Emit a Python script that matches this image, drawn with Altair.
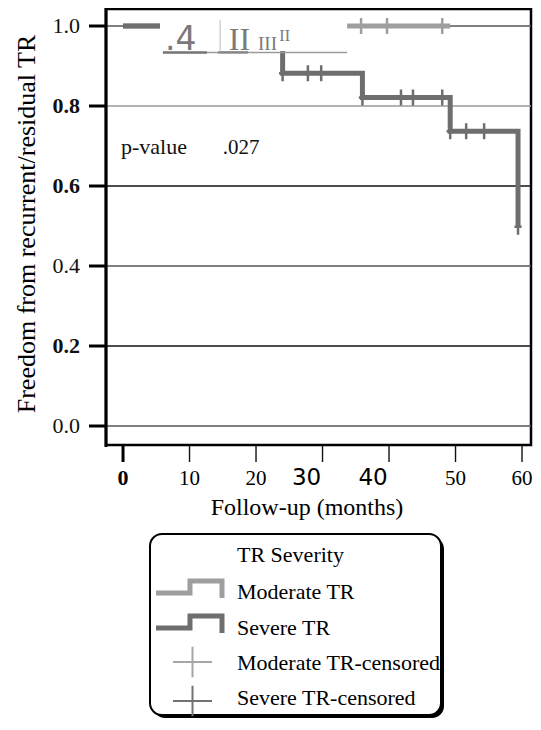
import altair as alt
import pandas as pd

# ---------------- data ----------------
series_names = ["Moderate TR", "Severe TR"]
series_colors = ["#9e9e9e", "#6e6e6e"]

moderate_time = [0.0, 49.2]
moderate_surv = [1.0, 1.0]
severe_time = [0.0, 24.0, 36.0, 49.2, 59.4]
severe_surv = [1.0, 0.882, 0.821, 0.737, 0.498]

moderate_cens_time = [35.8, 39.7, 48.0]
moderate_cens_surv = [1.0, 1.0, 1.0]
severe_cens_time = [24.0, 27.8, 29.8, 36.0, 41.8, 43.6, 48.0, 49.2, 51.6, 54.3, 59.4]
severe_cens_surv = [0.882, 0.882, 0.882, 0.821, 0.821, 0.821, 0.821, 0.737, 0.737, 0.737, 0.498]

x_ticks = [0, 10, 20, 30, 40, 50, 60]
x_tick_labels = ["0", "10", "20", "30", "40", "50", "60"]
y_ticks = [0.0, 0.2, 0.4, 0.6, 0.8, 1.0]
y_tick_labels = ["0.0", "0.2", "0.4", "0.6", "0.8", "1.0"]

legend_title = "TR Severity"
legend_labels = ["Moderate TR", "Severe TR", "Moderate TR-censored", "Severe TR-censored"]
legend_colors = ["#9e9e9e", "#6e6e6e", "#a6a6a6", "#727272"]

p_label = "p-value"
p_value = ".027"
garble_texts = [".4", "II", "III", "II"]

x_title = "Follow-up (months)"
y_title = "Freedom from recurrent/residual TR"

SERIF = "Liberation Serif"
SANS = "DejaVu Sans"
W, H = 425, 436

# ---------------- tables ----------------
curves = pd.concat([
    pd.DataFrame({"series": series_names[0], "t": moderate_time, "s": moderate_surv}),
    pd.DataFrame({"series": series_names[1], "t": severe_time, "s": severe_surv}),
], ignore_index=True)

censors = pd.concat([
    pd.DataFrame({"series": series_names[0], "t": moderate_cens_time, "s": moderate_cens_surv}),
    pd.DataFrame({"series": series_names[1], "t": severe_cens_time, "s": severe_cens_surv}),
], ignore_index=True)

xt_df = pd.DataFrame({"v": x_ticks, "lab": x_tick_labels})
yt_df = pd.DataFrame({"v": y_ticks, "lab": y_tick_labels})
one = pd.DataFrame({"k": [0]})

# ---------------- scales ----------------
xs = alt.Scale(domain=[-2.56, 61.35], nice=False, zero=False)
ys = alt.Scale(domain=[-0.0475, 1.0425], nice=False, zero=False)
cs = alt.Scale(domain=series_names, range=series_colors)


def XF(f):
    return alt.X(f, scale=xs, axis=None)


def YF(f):
    return alt.Y(f, scale=ys, axis=None)


def xd(v):
    return alt.XDatum(v, scale=xs, axis=None)


def yd(v):
    return alt.YDatum(v, scale=ys, axis=None)


# ---------------- grid & axes (drawn as marks) ----------------
grid = alt.Chart(yt_df).transform_calculate(
    gc="datum.v == 0.8 ? '#9a9a9a' : ((datum.v == 0.6 || datum.v == 0.2) ? '#111111' : '#555555')"
).mark_rule(strokeWidth=1.3).encode(
    y=YF("v:Q"),
    color=alt.Color("gc:N", scale=None, legend=None),
)

y_ticks_l = alt.Chart(yt_df).mark_rule(color="black", strokeWidth=3).encode(
    x=alt.value(-17), x2=alt.value(0), y=YF("v:Q"))
y_dom = alt.Chart(one).mark_rule(color="black", strokeWidth=3).encode(
    x=alt.value(0), y=alt.value(-1), y2=alt.value(H + 2))
y_lab_n = alt.Chart(yt_df).transform_filter("datum.v == 0 || datum.v == 0.4 || datum.v == 1").mark_text(
    font=SERIF, fontSize=22, color="#111111", align="right", baseline="middle"
).encode(x=alt.value(-26), y=YF("v:Q"), text="lab:N")
y_lab_b = alt.Chart(yt_df).transform_filter("datum.v == 0.2 || datum.v == 0.6 || datum.v == 0.8").mark_text(
    font=SERIF, fontSize=22, fontWeight="bold", color="#111111", align="right", baseline="middle"
).encode(x=alt.value(-26), y=YF("v:Q"), text="lab:N")
y_tit = alt.Chart(one).mark_text(
    text=y_title, font=SERIF, fontSize=26, color="black", angle=270, align="center", baseline="middle"
).encode(x=alt.value(-79), y=alt.value(215))

x_ticks_n = alt.Chart(xt_df).transform_filter("datum.v != 0").mark_rule(color="#111111", strokeWidth=1.4).encode(
    x=XF("v:Q"), y=alt.value(H + 1), y2=alt.value(H + 17))
x_ticks_0 = alt.Chart(xt_df).transform_filter("datum.v == 0").mark_rule(color="black", strokeWidth=3).encode(
    x=XF("v:Q"), y=alt.value(H + 1), y2=alt.value(H + 17))

LBL_Y = 476
x_lab = [
    alt.Chart(xt_df).transform_filter("datum.v == 0").mark_text(
        font=SERIF, fontSize=22, fontWeight="bold", color="black", baseline="alphabetic"
    ).encode(x=XF("v:Q"), y=alt.value(LBL_Y), text="lab:N"),
    alt.Chart(xt_df).transform_filter("datum.v == 10 || datum.v == 20 || datum.v == 50 || datum.v == 60").mark_text(
        font=SERIF, fontSize=21, color="black", baseline="alphabetic"
    ).encode(x=XF("v:Q"), y=alt.value(LBL_Y), text="lab:N"),
    alt.Chart(xt_df).transform_filter("datum.v == 30 || datum.v == 40").mark_text(
        font=SANS, fontSize=23, color="black", baseline="alphabetic", dx=-16
    ).encode(x=XF("v:Q"), y=alt.value(LBL_Y), text="lab:N"),
]
x_tit = alt.Chart(one).mark_text(
    text=x_title, font=SERIF, fontSize=24, color="black", align="center", baseline="alphabetic"
).encode(x=alt.value(201), y=alt.value(506))

# ---------------- curves ----------------
lines = alt.Chart(curves).mark_line(
    interpolate="step-after", strokeWidth=5, strokeCap="butt", strokeJoin="miter"
).encode(
    x=XF("t:Q"), y=YF("s:Q"),
    color=alt.Color("series:N", scale=cs, legend=None),
)

PLUS = "M-0.45,0L0.45,0M0,-1L0,1"
cens = alt.Chart(censors).mark_point(
    shape=PLUS, filled=False, size=256, strokeWidth=2.5, opacity=1
).encode(
    x=XF("t:Q"), y=YF("s:Q"),
    color=alt.Color("series:N", scale=cs, legend=None),
)

# ---------------- white patch with scan artefacts near the top ----------------
mask = alt.Chart(one).mark_rect(fill="white").encode(
    x=xd(5.56), x2=alt.X2Datum(33.7), y=yd(0.9375), y2=alt.Y2Datum(1.035))


def seg(x1, x2, y1, y2, color, w):
    return alt.Chart(one).mark_rule(color=color, strokeWidth=w).encode(
        x=xd(x1), x2=alt.X2Datum(x2), y=yd(y1), y2=alt.Y2Datum(y2))


art = [
    seg(6.0, 33.7, 0.934, 0.934, "#9a9a9a", 1.5),
    seg(6.0, 12.6, 0.934, 0.934, "#777777", 2.5),
    seg(14.3, 18.8, 0.934, 0.934, "#888888", 2.5),
    seg(14.6, 14.6, 0.935, 1.015, "#bbbbbb", 1),
]
g_specs = [(6.3, 0.94, SANS, 33), (15.9, 0.94, SERIF, 32), (20.3, 0.94, SERIF, 19), (23.5, 0.9625, SERIF, 16)]
for txt, (gx, gy, gf, gs) in zip(garble_texts, g_specs):
    art.append(alt.Chart(one).mark_text(
        text=txt, font=gf, fontSize=gs, color="#7a7a7a", align="left", baseline="alphabetic"
    ).encode(x=xd(gx), y=yd(gy)))

ptxt = [
    alt.Chart(one).mark_text(text=p_label, font=SERIF, fontSize=22, color="#111111",
                             align="left", baseline="alphabetic").encode(x=xd(-0.3), y=yd(0.68)),
    alt.Chart(one).mark_text(text=p_value, font=SERIF, fontSize=21, color="#111111",
                             align="left", baseline="alphabetic").encode(x=xd(15.0), y=yd(0.68)),
]

# ---------------- legend ----------------
leg = [
    alt.Chart(one).mark_rect(cornerRadius=12, fill="black").encode(
        x=alt.value(47), x2=alt.value(338), y=alt.value(528), y2=alt.value(709)),
    alt.Chart(one).mark_rect(cornerRadius=12, fill="white", stroke="black", strokeWidth=2).encode(
        x=alt.value(44), x2=alt.value(335), y=alt.value(525), y2=alt.value(706)),
    alt.Chart(one).mark_text(text=legend_title, font=SERIF, fontSize=22, color="black",
                             align="left", baseline="middle").encode(x=alt.value(131), y=alt.value(546)),
]
STEP = "M-1,0.12L0.03,0.12L0.03,-0.24L1,-0.24L1,0.27"
CROSS = "M-1,0L1,0M0,-0.78L0,0.78"
row_y = [583, 619, 654, 689]
glyph = [(83, 580, STEP, 4356, 5), (83, 615, STEP, 4356, 5),
         (86.5, 653, CROSS, 1521, 2), (86.5, 692, CROSS, 1521, 2)]
for lab, col, ry, (gx, gy, shp, sz, sw) in zip(legend_labels, legend_colors, row_y, glyph):
    leg.append(alt.Chart(one).mark_point(
        shape=shp, filled=False, size=sz, strokeWidth=sw, color=col, opacity=1,
        strokeJoin="miter", strokeCap="butt"
    ).encode(x=alt.value(gx), y=alt.value(gy)))
    leg.append(alt.Chart(one).mark_text(
        text=lab, font=SERIF, fontSize=22, color="black", align="left", baseline="middle"
    ).encode(x=alt.value(131), y=alt.value(ry)))

chart = alt.layer(
    grid, lines, cens, mask, *art, *ptxt,
    y_ticks_l, y_dom, y_lab_n, y_lab_b, y_tit,
    x_ticks_n, x_ticks_0, *x_lab, x_tit, *leg
).properties(
    width=W, height=H,
    padding={"left": 98, "top": 1, "right": 2, "bottom": 275},
    autosize=alt.AutoSizeParams(type="none"),
    background="white",
).configure_view(stroke="black", strokeWidth=2.5)

chart.save("out.html", embed_options={"renderer": "svg", "actions": False})
